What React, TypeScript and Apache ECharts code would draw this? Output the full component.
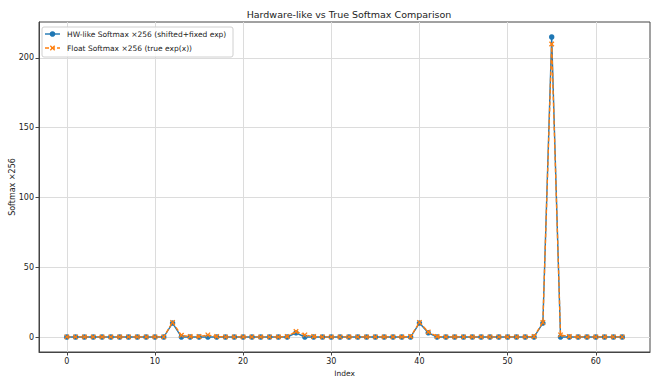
import React, { useEffect, useRef } from "react";
import * as echarts from "echarts";

const indices: number[] = Array.from({ length: 64 }, (_, i) => i);
const hwValues: number[] = [
  0, 0, 0, 0, 0, 0, 0, 0, 0, 0,
  0, 0, 10, 0, 0, 0, 0, 0, 0, 0,
  0, 0, 0, 0, 0, 0, 3, 0, 0, 0,
  0, 0, 0, 0, 0, 0, 0, 0, 0, 0,
  10, 3, 0, 0, 0, 0, 0, 0, 0, 0,
  0, 0, 0, 0, 10, 215, 0, 0, 0, 0,
  0, 0, 0, 0,
];
const floatValues: number[] = [
  0.1, 0.1, 0.1, 0.1, 0.1, 0.1, 0.1, 0.1, 0.1, 0.1,
  0.1, 0.1, 10.5, 1.2, 0.3, 0.3, 1.5, 0.3, 0.1, 0.1,
  0.1, 0.1, 0.1, 0.1, 0.1, 0.3, 4, 1.5, 0.3, 0.1,
  0.1, 0.1, 0.1, 0.1, 0.1, 0.1, 0.1, 0.1, 0.1, 0.3,
  10.5, 3.6, 0.3, 0.1, 0.1, 0.1, 0.1, 0.1, 0.1, 0.1,
  0.1, 0.1, 0.1, 0.3, 10.5, 210, 1.5, 0.3, 0.1, 0.1,
  0.1, 0.1, 0.1, 0.1,
];
const xTicks: number[] = [0, 10, 20, 30, 40, 50, 60];
const yTicks: number[] = [0, 50, 100, 150, 200];
const titleText = "Hardware-like vs True Softmax Comparison";
const hwName = "HW-like Softmax ×256 (shifted+fixed exp)";
const floatName = "Float Softmax ×256 (true exp(x))";

const BLUE = "#1f77b4";
const ORANGE = "#ff7f0e";
const FONT = "DejaVu Sans";

export default function App() {
  const ref = useRef<HTMLDivElement>(null);
  useEffect(() => {
    if (!ref.current) return;
    const chart = echarts.init(ref.current, null, { renderer: "svg" });
    const axisCommon = {
      axisLine: { show: true, onZero: false, lineStyle: { color: "#444", width: 1 } },
      axisTick: { show: true, length: 3.5, lineStyle: { color: "#444" } },
      splitLine: { show: true, lineStyle: { color: "#dcdcdc", width: 1 } },
    };
    chart.setOption({
      animation: false,
      backgroundColor: "#fff",
      title: {
        text: titleText,
        left: 344,
        textAlign: "center",
        top: 4,
        textStyle: { fontFamily: FONT, fontSize: 9.5, fontWeight: "normal", color: "#222" },
      },
      grid: {
        left: 39,
        top: 22,
        right: 1,
        bottom: 27,
        outerBoundsMode: "none",
        containLabel: false,
        show: true,
        borderColor: "#444",
        borderWidth: 1,
        backgroundColor: "transparent",
      },
      xAxis: {
        type: "value",
        min: -3.15,
        max: 66.15,
        name: "Index",
        nameLocation: "middle",
        nameGap: 16,
        nameTextStyle: { fontFamily: FONT, fontSize: 7.5, color: "#222" },
        ...axisCommon,
        axisTick: { ...axisCommon.axisTick, customValues: xTicks },
        axisLabel: {
          customValues: xTicks,
          fontFamily: FONT,
          fontSize: 8,
          color: "#222",
          margin: 5,
        },
      },
      yAxis: {
        type: "value",
        min: -10.75,
        max: 225.75,
        name: "Softmax ×256",
        nameLocation: "middle",
        nameGap: 23,
        nameMoveOverlap: false,
        nameTextStyle: { fontFamily: FONT, fontSize: 8, color: "#222" },
        ...axisCommon,
        axisTick: { ...axisCommon.axisTick, customValues: yTicks },
        axisLabel: {
          customValues: yTicks,
          fontFamily: FONT,
          fontSize: 8,
          color: "#222",
          margin: 5,
        },
      },
      series: [
        {
          name: hwName,
          type: "line",
          data: indices.map((x, i) => [x, hwValues[i]]),
          symbol: "circle",
          symbolSize: 5.5,
          showSymbol: true,
          lineStyle: { color: BLUE, width: 1.4 },
          itemStyle: { color: BLUE },
          z: 2,
        },
        {
          name: floatName,
          type: "line",
          data: indices.map((x, i) => [x, floatValues[i]]),
          symbol: "path://M0,0L10,10M10,0L0,10",
          symbolSize: 4.5,
          showSymbol: true,
          lineStyle: { color: ORANGE, width: 1.4, type: [4, 2] },
          itemStyle: { color: "none", borderColor: ORANGE, borderWidth: 1.3 },
          z: 3,
        },
      ],
      graphic: [
        {
          type: "rect",
          shape: { x: 42, y: 27, width: 191, height: 30, r: 2 },
          style: { fill: "rgba(255,255,255,0.85)", stroke: "#d0d0d0", lineWidth: 1 },
          z: 10,
        },
        {
          type: "line",
          shape: { x1: 45, y1: 34, x2: 60, y2: 34 },
          style: { stroke: BLUE, lineWidth: 1.4 },
          z: 11,
        },
        {
          type: "circle",
          shape: { cx: 52.5, cy: 34, r: 2.8 },
          style: { fill: BLUE },
          z: 11,
        },
        {
          type: "text",
          x: 67,
          y: 34,
          style: { text: hwName, fontFamily: FONT, fontSize: 7.5, fill: "#222", verticalAlign: "middle" },
          z: 11,
        },
        {
          type: "line",
          shape: { x1: 45, y1: 48, x2: 60, y2: 48 },
          style: { stroke: ORANGE, lineWidth: 1.4, lineDash: [4, 2] },
          z: 11,
        },
        {
          type: "line",
          shape: { x1: 50.3, y1: 45.8, x2: 54.7, y2: 50.2 },
          style: { stroke: ORANGE, lineWidth: 1.3 },
          z: 11,
        },
        {
          type: "line",
          shape: { x1: 54.7, y1: 45.8, x2: 50.3, y2: 50.2 },
          style: { stroke: ORANGE, lineWidth: 1.3 },
          z: 11,
        },
        {
          type: "text",
          x: 67,
          y: 48,
          style: { text: floatName, fontFamily: FONT, fontSize: 7.5, fill: "#222", verticalAlign: "middle" },
          z: 11,
        },
      ],
    });
    return () => chart.dispose();
  }, []);
  return (
    <div
      ref={ref}
      style={{ width: 651, height: 379, position: "absolute", left: 0, top: 0 }}
    />
  );
}
